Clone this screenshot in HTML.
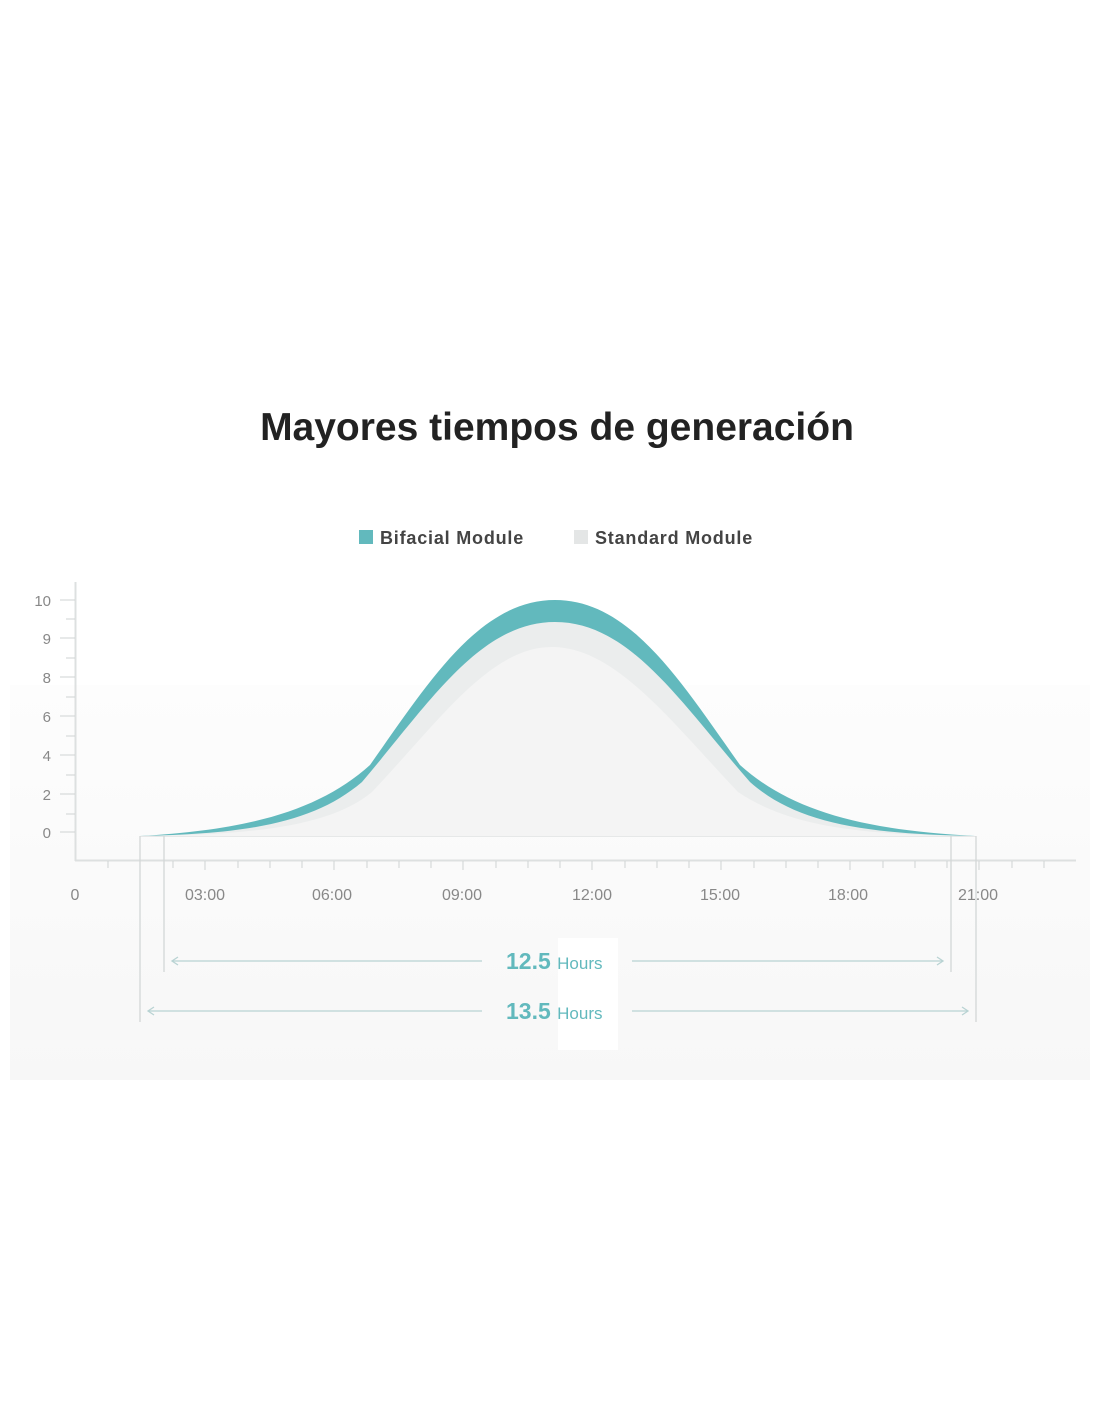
<!DOCTYPE html>
<html><head><meta charset="utf-8"><style>
html,body{margin:0;padding:0;background:#fff;width:1100px;height:1422px;overflow:hidden;}
</style></head><body>
<svg width="1100" height="1422" viewBox="0 0 1100 1422" xmlns="http://www.w3.org/2000/svg" font-family="Liberation Sans, sans-serif">
<defs>
<linearGradient id="bg" x1="0" y1="0" x2="0" y2="1">
<stop offset="0" stop-color="#fdfdfd"/><stop offset="1" stop-color="#f7f7f7"/>
</linearGradient>
</defs>
<rect x="10" y="685" width="1080" height="395" fill="url(#bg)"/>
<rect x="558" y="938" width="60" height="112" fill="#fff"/>
<text x="557" y="440" text-anchor="middle" font-size="39" font-weight="bold" fill="#222">Mayores tiempos de generación</text>
<rect x="359" y="530" width="14" height="14" fill="#62b9bd"/>
<text x="380" y="544" font-size="18" font-weight="bold" fill="#444" letter-spacing="0.8">Bifacial Module</text>
<rect x="574" y="530" width="14" height="14" fill="#e4e6e6"/>
<text x="595" y="544" font-size="18" font-weight="bold" fill="#444" letter-spacing="0.8">Standard Module</text>
<line x1="75.5" y1="582" x2="75.5" y2="861" stroke="#dde0e0" stroke-width="2"/>
<line x1="75" y1="860.5" x2="1076" y2="860.5" stroke="#dde0e0" stroke-width="2"/>
<g stroke="#cfd3d3" stroke-width="1">
<line x1="60" y1="600" x2="75" y2="600"/><line x1="66" y1="619" x2="75" y2="619"/>
<line x1="60" y1="638" x2="75" y2="638"/><line x1="66" y1="658" x2="75" y2="658"/>
<line x1="60" y1="677" x2="75" y2="677"/><line x1="66" y1="697" x2="75" y2="697"/>
<line x1="60" y1="716" x2="75" y2="716"/><line x1="66" y1="736" x2="75" y2="736"/>
<line x1="60" y1="755" x2="75" y2="755"/><line x1="66" y1="775" x2="75" y2="775"/>
<line x1="60" y1="794" x2="75" y2="794"/><line x1="66" y1="814" x2="75" y2="814"/>
<line x1="60" y1="832" x2="75" y2="832"/>
</g>
<g font-size="15" fill="#888" text-anchor="end">
<text x="51" y="606">10</text><text x="51" y="644">9</text><text x="51" y="683">8</text>
<text x="51" y="722">6</text><text x="51" y="761">4</text><text x="51" y="800">2</text><text x="51" y="838">0</text>
</g>
<g stroke="#cfd3d3" stroke-width="1">
<line x1="108" y1="861" x2="108" y2="868"/><line x1="140" y1="861" x2="140" y2="868"/><line x1="173" y1="861" x2="173" y2="868"/>
<line x1="205" y1="861" x2="205" y2="870"/><line x1="238" y1="861" x2="238" y2="868"/><line x1="270" y1="861" x2="270" y2="868"/>
<line x1="302" y1="861" x2="302" y2="868"/><line x1="334" y1="861" x2="334" y2="870"/><line x1="367" y1="861" x2="367" y2="868"/>
<line x1="399" y1="861" x2="399" y2="868"/><line x1="431" y1="861" x2="431" y2="868"/><line x1="463" y1="861" x2="463" y2="870"/>
<line x1="496" y1="861" x2="496" y2="868"/><line x1="528" y1="861" x2="528" y2="868"/><line x1="560" y1="861" x2="560" y2="868"/>
<line x1="592" y1="861" x2="592" y2="870"/><line x1="625" y1="861" x2="625" y2="868"/><line x1="657" y1="861" x2="657" y2="868"/>
<line x1="689" y1="861" x2="689" y2="868"/><line x1="721" y1="861" x2="721" y2="870"/><line x1="754" y1="861" x2="754" y2="868"/>
<line x1="786" y1="861" x2="786" y2="868"/><line x1="818" y1="861" x2="818" y2="868"/><line x1="850" y1="861" x2="850" y2="870"/>
<line x1="883" y1="861" x2="883" y2="868"/><line x1="915" y1="861" x2="915" y2="868"/><line x1="947" y1="861" x2="947" y2="868"/>
<line x1="979" y1="861" x2="979" y2="870"/><line x1="1012" y1="861" x2="1012" y2="868"/><line x1="1044" y1="861" x2="1044" y2="868"/>
</g>
<g font-size="16" fill="#888" text-anchor="middle">
<text x="75" y="900">0</text><text x="205" y="900">03:00</text><text x="332" y="900">06:00</text>
<text x="462" y="900">09:00</text><text x="592" y="900">12:00</text><text x="720" y="900">15:00</text>
<text x="848" y="900">18:00</text><text x="978" y="900">21:00</text>
</g>
<path d="M140,836 C250,830 320,810 370,765 C430,680 480,600 555,600 C630,600 680,680 740,765 C790,810 860,830 975,836 Z" fill="#62b9bd"/>
<path d="M140,836 C250,834 315,822 362,782 C430,702 480,622 555,622 C630,622 680,702 750,782 C795,822 860,834 975,836 Z" fill="#ebeded"/>
<path d="M140,836 C250,835 330,827 372,792 C440,720 490,647 552,647 C615,647 670,720 738,792 C790,827 860,835 975,836 Z" fill="#f4f4f4"/>
<line x1="140" y1="836.5" x2="976" y2="836.5" stroke="#e6e8e8" stroke-width="1"/>
<g stroke="#d3d7d7" stroke-width="1.3">
<line x1="140" y1="836" x2="140" y2="1022"/><line x1="164" y1="836" x2="164" y2="972"/>
<line x1="951" y1="836" x2="951" y2="972"/><line x1="976" y1="836" x2="976" y2="1022"/>
</g>
<g stroke="#b9d3d3" stroke-width="1.3" fill="none">
<line x1="172" y1="961" x2="482" y2="961"/><line x1="632" y1="961" x2="943" y2="961"/>
<line x1="148" y1="1011" x2="482" y2="1011"/><line x1="632" y1="1011" x2="968" y2="1011"/>
<path d="M178,957 L172,961 L178,965"/><path d="M937,957 L943,961 L937,965"/>
<path d="M154,1007 L148,1011 L154,1015"/><path d="M962,1007 L968,1011 L962,1015"/>
</g>
<text x="506" y="969" font-size="23" font-weight="bold" fill="#62b9bd">12.5 <tspan font-size="17" font-weight="normal">Hours</tspan></text>
<text x="506" y="1019" font-size="23" font-weight="bold" fill="#62b9bd">13.5 <tspan font-size="17" font-weight="normal">Hours</tspan></text>
</svg>
</body></html>
